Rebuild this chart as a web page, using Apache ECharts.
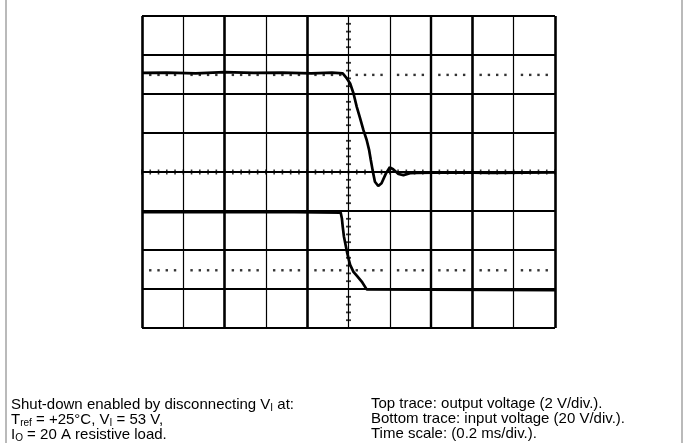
<!DOCTYPE html>
<html>
<head>
<meta charset="utf-8">
<script src="https://cdn.jsdelivr.net/npm/echarts@6/dist/echarts.min.js"></script>
<style>
  html, body { margin: 0; padding: 0; background: #fff; }
  #chart { width: 688px; height: 443px; }
</style>
</head>
<body>
<div id="chart"></div>
<script>
// Scope capture, both axes in screen divisions with the origin at the
// centre of the 10 x 8 division graticule.

// Top trace: output voltage (2 V/div)
const outTime  = [-5.00, -4.40, -3.70, -3.00, -2.30, -1.60, -0.90, -0.40, -0.14, -0.04,
                   0.04,  0.12,  0.20,  0.28,  0.36,  0.44,  0.50,  0.54,  0.59,  0.64,
                   0.72,  0.80,  0.91,  1.00,  1.08,  1.21,  1.33,  1.49,  1.65,  2.50,
                   3.50,  5.00];
const outLevel = [ 2.54,  2.55,  2.53,  2.56,  2.54,  2.55,  2.53,  2.55,  2.53,  2.40,
                   2.27,  2.02,  1.67,  1.38,  1.08,  0.82,  0.56,  0.31,  0.01, -0.25,
                  -0.36, -0.29, -0.03,  0.12,  0.07, -0.05, -0.08, -0.03, -0.02, -0.01,
                  -0.02, -0.01];

// Bottom trace: input voltage (20 V/div)
const inTime  = [-5.00, -1.30, -0.19, -0.16, -0.14, -0.11, -0.07, -0.03,  0.01,  0.04,
                  0.12,  0.21,  0.32,  0.44,  0.48,  5.00];
const inLevel = [-1.03, -1.03, -1.04, -1.19, -1.40, -1.66, -1.87, -2.08, -2.26, -2.38,
                 -2.56, -2.67, -2.81, -3.01, -3.03, -3.03];

// Dotted reference levels
const markerLevels = [2.49, -2.52];

// Graticule lines away from the centre axes
const gridColumns = [-5, -4, -3, -2, -1, 1, 2, 3, 4, 5];
const columnWeights = [2.6, 1.2, 2.6, 1.2, 2.6, 1.2, 2.4, 2.6, 1.2, 2.6];
const gridRows = [-4, -3, -2, -1, 1, 2, 3, 4];

const INK = '#000';
const FONT = "'Liberation Sans', Arial, Helvetica, sans-serif";
const MINOR = 5;   // minor subdivisions per division

const toPairs = (xs, ys) => xs.map((x, i) => [x, ys[i]]);

// Minor-division dots along each reference level
const markerDots = [];
markerLevels.forEach(level => {
  for (let d = -5; d < 5; d++) {
    for (let k = 1; k < MINOR; k++) markerDots.push([d + k / MINOR, level]);
  }
});

// Tick marks along the centre crosshair, one per minor division
const hTicks = [], vTicks = [];
for (let i = -5 * MINOR; i <= 5 * MINOR; i++) hTicks.push([i / MINOR, 0]);
for (let i = -4 * MINOR; i <= 4 * MINOR; i++) vTicks.push([0, i / MINOR]);

const hiddenAxis = (min, max) => ({
  type: 'value', min: min, max: max, interval: 1,
  axisLine: { show: false }, axisTick: { show: false },
  axisLabel: { show: false }, splitLine: { show: false }
});

function crossLine(name, points, width) {
  return {
    name: name, type: 'line', z: 2, silent: true, showSymbol: false,
    lineStyle: { color: INK, width: width }, data: points
  };
}

function tickMarks(name, points, size) {
  return {
    name: name, type: 'scatter', z: 2, silent: true,
    symbol: 'rect', symbolSize: size,
    itemStyle: { color: INK }, data: points
  };
}

const chart = echarts.init(document.getElementById('chart'), null, { renderer: 'canvas' });

chart.setOption({
  animation: false,
  backgroundColor: '#fff',
  grid: { left: 142, right: 133, top: 16, bottom: 115, containLabel: false },
  xAxis: hiddenAxis(-5, 5),
  yAxis: hiddenAxis(-4, 4),
  series: [
    {
      name: 'markers',
      type: 'scatter',
      z: 2,
      silent: true,
      symbol: 'rect',
      symbolSize: [2.4, 2.4],
      itemStyle: { color: INK },
      data: markerDots,
      markLine: {
        silent: true,
        symbol: 'none',
        label: { show: false },
        z: 1,
        data: gridColumns.map((x, i) => ({
          xAxis: x,
          lineStyle: { color: INK, width: columnWeights[i], type: 'solid' }
        })).concat(gridRows.map(y => ({
          yAxis: y,
          lineStyle: { color: INK, width: 2, type: 'solid' }
        })))
      }
    },
    crossLine('centre-h', [[-5, 0], [5, 0]], 2.2),
    crossLine('centre-v', [[0, -4], [0, 4]], 1.2),
    tickMarks('ticks-h', hTicks, [1.6, 5]),
    tickMarks('ticks-v', vTicks, [5, 1.8]),
    {
      name: 'Output voltage',
      type: 'line',
      z: 3,
      showSymbol: false,
      silent: true,
      lineStyle: { color: INK, width: 2.7 },
      data: toPairs(outTime, outLevel)
    },
    {
      name: 'Input voltage',
      type: 'line',
      z: 3,
      showSymbol: false,
      silent: true,
      lineStyle: { color: INK, width: 2.7 },
      data: toPairs(inTime, inLevel)
    }
  ],
  graphic: [
    { type: 'line', silent: true, shape: { x1: 6, y1: 0, x2: 6, y2: 443 },
      style: { stroke: '#8c8c8c', lineWidth: 1.2 } },
    { type: 'line', silent: true, shape: { x1: 682, y1: 0, x2: 682, y2: 443 },
      style: { stroke: '#8c8c8c', lineWidth: 1.2 } },
    {
      type: 'text', left: 11, top: 396, silent: true,
      style: {
        text: 'Shut-down enabled by disconnecting V{s|I} at:\nT{s|ref} = +25°C, V{s|I} = 53 V,\nI{s|O} = 20 A resistive load.',
        font: '15px ' + FONT, fill: INK, lineHeight: 15,
        rich: { s: { fontSize: 10, fontFamily: FONT, fill: INK, lineHeight: 4, padding: [7, 0, 0, 0] } }
      }
    },
    {
      type: 'text', left: 371, top: 396, silent: true,
      style: {
        text: 'Top trace: output voltage (2 V/div.).\nBottom trace: input voltage (20 V/div.).\nTime scale: (0.2 ms/div.).',
        font: '15px ' + FONT, fill: INK, lineHeight: 15
      }
    }
  ]
});
</script>
</body>
</html>
